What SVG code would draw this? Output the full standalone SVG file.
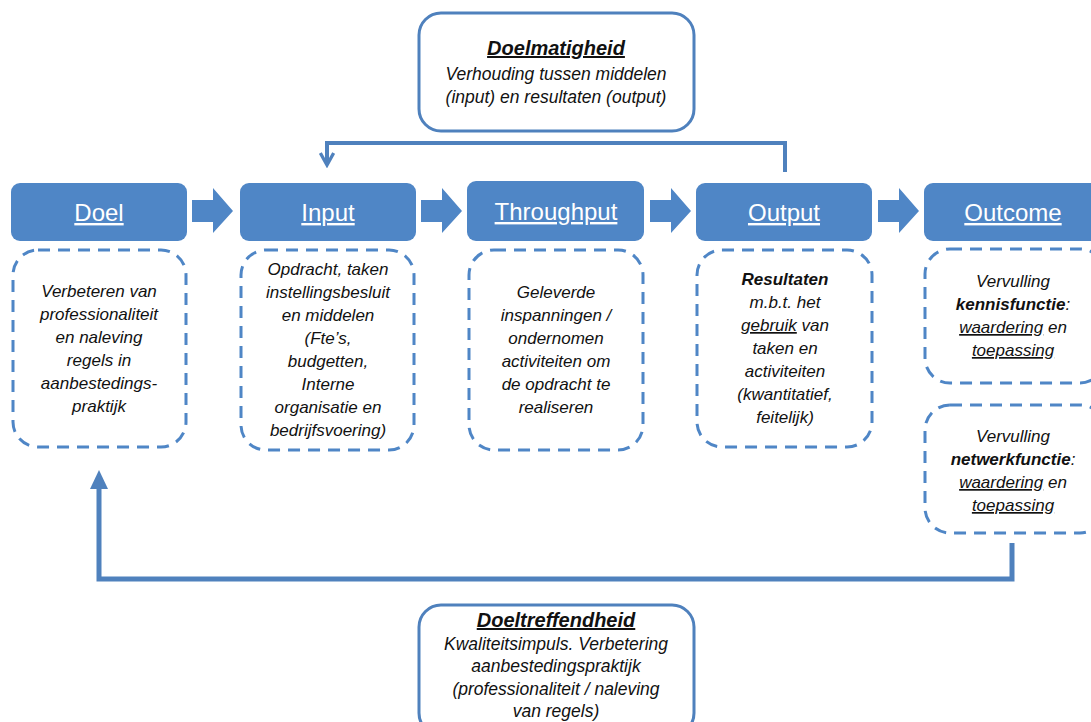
<svg xmlns="http://www.w3.org/2000/svg" width="1091" height="722" viewBox="0 0 1091 722">
<defs>
<style>
.hdr{fill:#4f86c6;}
.hdrt{font-family:"Liberation Sans",Arial,sans-serif;font-size:24px;fill:#fff;text-anchor:middle;text-decoration:underline;}
.dash{fill:none;stroke:#4f86c6;stroke-width:3;stroke-dasharray:12 8;}
.body{font-family:"Liberation Sans",Arial,sans-serif;font-size:17px;font-style:italic;fill:#111;text-anchor:middle;}
.sol{fill:#fff;stroke:#4f81bd;stroke-width:3;}
.ttl{font-family:"Liberation Sans",Arial,sans-serif;font-size:20px;font-style:italic;font-weight:bold;fill:#111;text-anchor:middle;text-decoration:underline;}
.sub{font-family:"Liberation Sans",Arial,sans-serif;font-size:17.5px;font-style:italic;fill:#111;text-anchor:middle;}
.blk{fill:#4f86c6;}
.conn{fill:none;stroke:#4f81bd;stroke-width:4;}
</style>
<marker id="openArrow" viewBox="0 0 12 12" refX="10" refY="6" markerWidth="4" markerHeight="4" orient="auto" markerUnits="strokeWidth">
<path d="M1,1 L10,6 L1,11" fill="none" stroke="#4f81bd" stroke-width="2.5"/>
</marker>
</defs>

<g id="connectors">
<path class="conn" d="M785,172 L785,143 L327,143 L327,165" marker-end="url(#openArrow)"/>
<path class="conn" d="M1012,543 L1012,579 L99,579 L99,488" style="stroke-width:5"/>
<path d="M99,470 L108,489 L90,489 Z" fill="#4f81bd"/>
<path class="blk" d="M192,200 L213,200 L213,188 L233,211 L213,233 L213,222 L192,222 Z"/>
<path class="blk" d="M421,200 L442,200 L442,188 L462,211 L442,233 L442,222 L421,222 Z"/>
<path class="blk" d="M650,200 L671,200 L671,188 L691,211 L671,233 L671,222 L650,222 Z"/>
<path class="blk" d="M878,200 L899,200 L899,188 L919,211 L899,233 L899,222 L878,222 Z"/>
</g>

<g id="doelmatigheid">
<rect class="sol" x="419" y="13" width="275" height="118" rx="22"/>
<text class="ttl" x="556" y="55">Doelmatigheid</text>
<text class="sub" x="556" y="80">Verhouding tussen middelen</text>
<text class="sub" x="556" y="103">(input) en resultaten (output)</text>
</g>

<g id="doeltreffendheid">
<rect class="sol" x="419" y="605" width="275" height="130" rx="22"/>
<text class="ttl" x="556" y="627">Doeltreffendheid</text>
<text class="sub" x="556" y="650">Kwaliteitsimpuls. Verbetering</text>
<text class="sub" x="556" y="672">aanbestedingspraktijk</text>
<text class="sub" x="556" y="695">(professionaliteit / naleving</text>
<text class="sub" x="556" y="717">van regels)</text>
</g>

<g id="doel">
<rect class="hdr" x="11" y="183" width="176" height="58" rx="9"/>
<text class="hdrt" x="99" y="221">Doel</text>
<rect class="dash" x="13" y="250" width="173" height="197" rx="25"/>
<text class="body" x="99" y="297">Verbeteren van</text>
<text class="body" x="99" y="320">professionaliteit</text>
<text class="body" x="99" y="343">en naleving</text>
<text class="body" x="99" y="366">regels in</text>
<text class="body" x="99" y="389">aanbestedings-</text>
<text class="body" x="99" y="412">praktijk</text>
</g>

<g id="input">
<rect class="hdr" x="240" y="183" width="176" height="58" rx="9"/>
<text class="hdrt" x="328" y="221">Input</text>
<rect class="dash" x="241" y="250" width="173" height="200" rx="25"/>
<text class="body" x="328" y="275">Opdracht, taken</text>
<text class="body" x="328" y="298">instellingsbesluit</text>
<text class="body" x="328" y="321">en middelen</text>
<text class="body" x="328" y="344">(Fte’s,</text>
<text class="body" x="328" y="367">budgetten,</text>
<text class="body" x="328" y="390">Interne</text>
<text class="body" x="328" y="413">organisatie en</text>
<text class="body" x="328" y="436">bedrijfsvoering)</text>
</g>

<g id="throughput">
<rect class="hdr" x="467" y="181" width="177" height="60" rx="9"/>
<text class="hdrt" x="556" y="220">Throughput</text>
<rect class="dash" x="469" y="250" width="174" height="200" rx="25"/>
<text class="body" x="556" y="298">Geleverde</text>
<text class="body" x="556" y="321">inspanningen /</text>
<text class="body" x="556" y="344">ondernomen</text>
<text class="body" x="556" y="367">activiteiten om</text>
<text class="body" x="556" y="390">de opdracht te</text>
<text class="body" x="556" y="413">realiseren</text>
</g>

<g id="output">
<rect class="hdr" x="696" y="183" width="176" height="58" rx="9"/>
<text class="hdrt" x="784" y="221">Output</text>
<rect class="dash" x="697" y="250" width="175" height="197" rx="25"/>
<text class="body" x="785" y="285" font-weight="bold">Resultaten</text>
<text class="body" x="785" y="308">m.b.t. het</text>
<text class="body" x="785" y="331"><tspan text-decoration="underline">gebruik</tspan> van</text>
<text class="body" x="785" y="354">taken en</text>
<text class="body" x="785" y="377">activiteiten</text>
<text class="body" x="785" y="400">(kwantitatief,</text>
<text class="body" x="785" y="423">feitelijk)</text>
</g>

<g id="outcome">
<rect class="hdr" x="924" y="183" width="180" height="58" rx="9"/>
<text class="hdrt" x="1013" y="221">Outcome</text>
</g>

<g id="kennisfunctie">
<rect class="dash" x="925" y="249" width="180" height="134" rx="25"/>
<text class="body" x="1013" y="287">Vervulling</text>
<text class="body" x="1013" y="310"><tspan font-weight="bold">kennisfunctie</tspan>:</text>
<text class="body" x="1013" y="333"><tspan text-decoration="underline">waardering</tspan> en</text>
<text class="body" x="1013" y="356" text-decoration="underline">toepassing</text>
</g>

<g id="netwerkfunctie">
<rect class="dash" x="925" y="405" width="180" height="128" rx="25"/>
<text class="body" x="1013" y="442">Vervulling</text>
<text class="body" x="1013" y="465"><tspan font-weight="bold">netwerkfunctie</tspan>:</text>
<text class="body" x="1013" y="488"><tspan text-decoration="underline">waardering</tspan> en</text>
<text class="body" x="1013" y="511" text-decoration="underline">toepassing</text>
</g>
</svg>
